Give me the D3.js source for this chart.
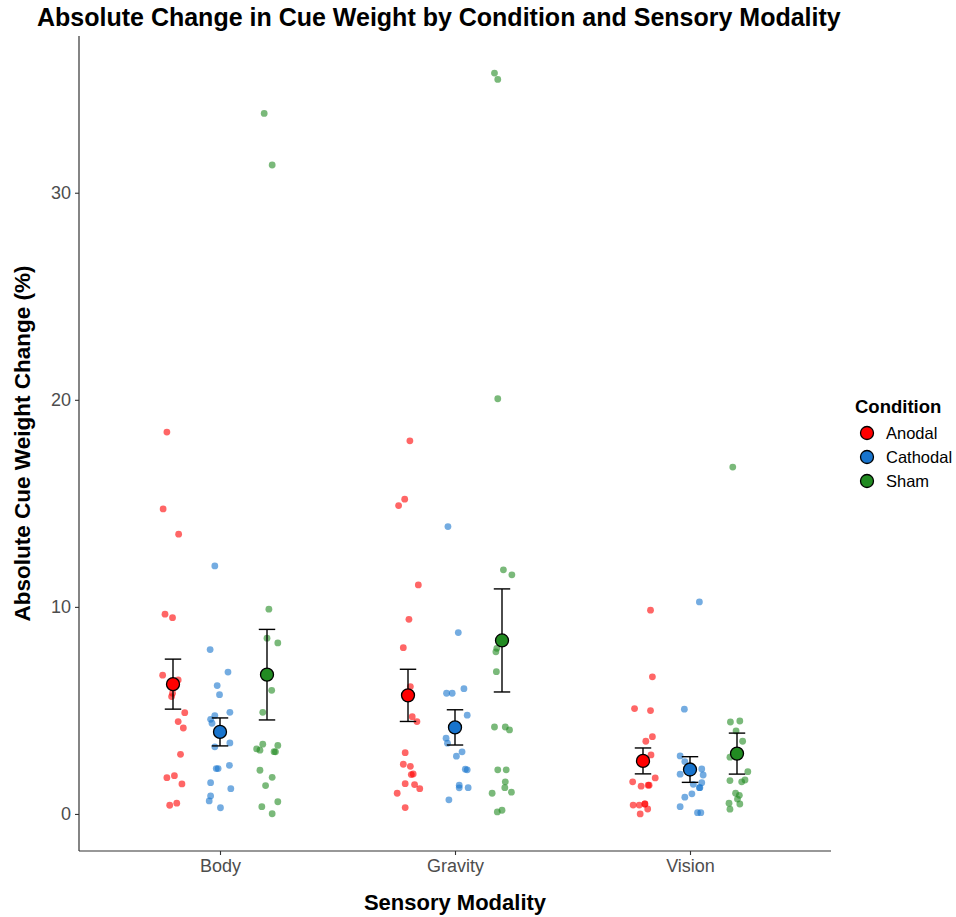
<!DOCTYPE html>
<html>
<head>
<meta charset="utf-8">
<script src="https://cdn.jsdelivr.net/npm/d3@7"></script>
<style>
  html, body { margin: 0; padding: 0; background: #fff; }
  svg { display: block; font-family: "Liberation Sans", Arial, sans-serif; }
</style>
</head>
<body>
<svg id="chart" width="956" height="917"></svg>
<script>
// ---------------- DATA ----------------
const modalities = ["Body", "Gravity", "Vision"];
const conditions = ["Anodal", "Cathodal", "Sham"];
const yTicks = [0, 10, 20, 30];

// Individual observations (absolute cue weight change, %)
const bodyAnodal    = [18.44,14.73,13.51,9.65,9.48,6.70,6.47,5.83,5.67,4.89,4.46,4.15,2.88,1.75,1.85,1.45,0.42,0.52];
const bodyCathodal  = [11.98,7.94,6.85,6.20,5.76,4.91,4.75,4.57,4.38,3.43,3.24,2.35,2.19,2.19,1.51,1.22,0.87,0.63,0.30];
const bodySham      = [33.83,31.34,9.89,8.49,8.26,5.97,4.91,3.37,3.31,3.14,3.08,3.01,3.00,2.11,1.77,1.37,0.59,0.35,0.01];
const gravityAnodal   = [18.02,15.20,14.89,11.06,9.40,8.03,6.15,4.70,4.46,2.96,2.40,2.30,1.93,1.90,1.46,1.42,1.22,1.00,0.31];
const gravityCathodal = [13.88,8.76,6.05,5.83,5.83,4.77,3.66,3.42,3.00,2.79,2.16,2.13,1.39,1.26,1.27,0.68];
const gravitySham     = [35.78,35.47,20.05,11.79,11.55,8.00,7.83,6.87,4.20,4.20,4.06,2.13,2.13,1.55,1.27,1.00,1.05,0.10,0.18];
const visionAnodal   = [9.84,6.62,5.09,4.99,3.73,3.51,2.85,1.74,1.55,1.34,1.39,1.39,0.43,0.43,0.48,0.48,0.24,0.00];
const visionCathodal = [10.24,5.06,2.80,2.53,2.17,1.92,1.88,1.51,1.43,1.27,1.27,0.97,0.81,0.35,0.06,0.06];
const visionSham     = [16.75,4.44,4.49,4.01,3.51,2.74,2.04,1.55,1.64,1.61,1.00,0.90,0.52,0.72,0.48,0.23];

const bodyAnodalJit    = [-0.13,-0.21,0.12,-0.17,-0.01,-0.22,0.11,-0.01,-0.03,0.25,0.11,0.22,0.16,-0.13,0.03,0.19,-0.07,0.08];
const bodyCathodalJit  = [-0.11,-0.21,0.17,-0.06,-0.01,0.21,-0.11,-0.20,-0.17,0.21,-0.11,0.20,-0.08,-0.04,-0.20,0.23,-0.20,-0.23,0.01];
const bodyShamJit      = [-0.06,0.11,0.04,0,0.23,0.10,-0.09,-0.09,0.23,-0.22,-0.15,0.15,0.18,-0.15,0.11,-0.03,0.23,-0.11,0.11];
const gravityAnodalJit   = [0.04,-0.07,-0.20,0.22,0.02,-0.10,0.05,0.09,0.19,-0.06,-0.10,0.05,0.11,0.07,-0.06,0.14,0.25,-0.23,-0.06];
const gravityCathodalJit = [-0.15,0.07,0.19,-0.18,-0.06,0.26,-0.19,-0.16,0.15,0.03,0.22,0.26,0.09,0.09,0.28,-0.13];
const gravityShamJit     = [-0.16,-0.09,-0.09,0.03,0.21,-0.11,-0.13,-0.12,-0.16,0.07,0.16,-0.09,0.09,0.07,0.06,-0.21,0.20,-0.10,0];
const visionAnodalJit   = [0.16,0.20,-0.18,0.16,0.20,0.06,0.17,0.26,-0.22,-0.04,0.13,0.11,-0.21,-0.08,0.04,0.04,0.10,-0.06];
const visionCathodalJit = [0.20,-0.12,-0.21,-0.11,0.25,-0.21,0.28,0.25,0.07,0.20,0.21,0.04,-0.11,-0.21,0.16,0.23];
const visionShamJit     = [-0.09,-0.14,0.06,-0.02,0.12,-0.15,0.23,0.10,0.17,-0.15,-0.03,0.05,-0.17,0.01,0.06,-0.15];

const colors = ["#FF0000", "#1874CD", "#228B22"];

// ---------------- BUILD TABLE ----------------
const groups = [
  { m: "Body", c: "Anodal", v: bodyAnodal, j: bodyAnodalJit },
  { m: "Body", c: "Cathodal", v: bodyCathodal, j: bodyCathodalJit },
  { m: "Body", c: "Sham", v: bodySham, j: bodyShamJit },
  { m: "Gravity", c: "Anodal", v: gravityAnodal, j: gravityAnodalJit },
  { m: "Gravity", c: "Cathodal", v: gravityCathodal, j: gravityCathodalJit },
  { m: "Gravity", c: "Sham", v: gravitySham, j: gravityShamJit },
  { m: "Vision", c: "Anodal", v: visionAnodal, j: visionAnodalJit },
  { m: "Vision", c: "Cathodal", v: visionCathodal, j: visionCathodalJit },
  { m: "Vision", c: "Sham", v: visionSham, j: visionShamJit }
];
const points = [];
groups.forEach(g => g.v.forEach((val, i) => points.push({ m: g.m, c: g.c, v: val, j: g.j[i] })));
const summary = groups.map(g => {
  const mean = d3.mean(g.v);
  const se = d3.deviation(g.v) / Math.sqrt(g.v.length);
  return { m: g.m, c: g.c, mean, lo: mean - se, hi: mean + se };
});

// ---------------- LAYOUT ----------------
const svg = d3.select("#chart");
const panel = { left: 79, right: 831, top: 36, bottom: 851 };

const x = d3.scalePoint().domain(modalities).range([panel.left, panel.right]).padding(0.6);
const step = x.step();
const dodge = d3.scalePoint().domain(conditions).range([-0.2 * step, 0.2 * step]);
const dodgeW = 0.2 * step;

const ext = d3.extent(points, d => d.v);
const pad = (ext[1] - ext[0]) * 0.05;
const y = d3.scaleLinear().domain([ext[0] - pad, ext[1] + pad]).range([panel.bottom, panel.top]);
const color = d3.scaleOrdinal().domain(conditions).range(colors);

// jitter points
svg.append("g").selectAll("circle").data(points).join("circle")
  .attr("cx", d => x(d.m) + dodge(d.c) + d.j * dodgeW)
  .attr("cy", d => y(d.v))
  .attr("r", 3.4)
  .attr("fill", d => color(d.c))
  .attr("fill-opacity", 0.6);

// error bars
const eb = svg.append("g").attr("stroke", "#000").attr("stroke-width", 1.4).attr("fill", "none");
const capHalf = 0.035 * step;
summary.forEach(s => {
  const cx = x(s.m) + dodge(s.c);
  eb.append("line").attr("x1", cx).attr("x2", cx).attr("y1", y(s.lo)).attr("y2", y(s.hi));
  eb.append("line").attr("x1", cx - capHalf).attr("x2", cx + capHalf).attr("y1", y(s.lo)).attr("y2", y(s.lo));
  eb.append("line").attr("x1", cx - capHalf).attr("x2", cx + capHalf).attr("y1", y(s.hi)).attr("y2", y(s.hi));
});

// means
svg.append("g").selectAll("circle").data(summary).join("circle")
  .attr("cx", d => x(d.m) + dodge(d.c))
  .attr("cy", d => y(d.mean))
  .attr("r", 6.5)
  .attr("fill", d => color(d.c))
  .attr("stroke", "#000")
  .attr("stroke-width", 1.3);

// axes
const tickColor = "#4D4D4D";
const yAxis = svg.append("g").attr("transform", `translate(${panel.left},0)`)
  .call(d3.axisLeft(y).tickValues(yTicks).tickSize(4).tickPadding(4));
const xAxis = svg.append("g").attr("transform", `translate(0,${panel.bottom})`)
  .call(d3.axisBottom(x).tickSize(4).tickPadding(4));
[xAxis, yAxis].forEach(a => {
  a.select(".domain").attr("stroke", "#333").attr("stroke-width", 1.2);
  a.selectAll(".tick line").attr("stroke", "#333").attr("stroke-width", 1.1);
  a.selectAll(".tick text").attr("fill", tickColor).style("font-size", "18px")
    .style("font-family", "Liberation Sans, Arial, sans-serif");
});
yAxis.select(".domain").attr("d", `M0,${panel.bottom}V${panel.top}`);
xAxis.select(".domain").attr("d", `M${panel.left},0H${panel.right}`);

// titles
svg.append("text").attr("x", 37).attr("y", 26)
  .style("font-size", "25px").style("font-weight", "bold").attr("fill", "#000")
  .text("Absolute Change in Cue Weight by Condition and Sensory Modality");
svg.append("text").attr("x", (panel.left + panel.right) / 2).attr("y", 910)
  .attr("text-anchor", "middle").style("font-size", "22px").style("font-weight", "bold")
  .text("Sensory Modality");
svg.append("text").attr("transform", `translate(30,${(panel.top + panel.bottom) / 2}) rotate(-90)`)
  .attr("text-anchor", "middle").style("font-size", "22.5px").style("font-weight", "bold")
  .text("Absolute Cue Weight Change (%)");

// legend
const lg = svg.append("g").attr("transform", "translate(855,0)");
lg.append("text").attr("x", 0).attr("y", 413).style("font-size", "18.5px").style("font-weight", "bold")
  .text("Condition");
conditions.forEach((c, i) => {
  const cy = 433 + i * 24;
  lg.append("circle").attr("cx", 12).attr("cy", cy).attr("r", 6.5)
    .attr("fill", color(c)).attr("stroke", "#000").attr("stroke-width", 1.3);
  lg.append("text").attr("x", 31).attr("y", cy).attr("dy", "0.35em")
    .style("font-size", "16.5px").attr("fill", "#000").text(c);
});
</script>
</body>
</html>
